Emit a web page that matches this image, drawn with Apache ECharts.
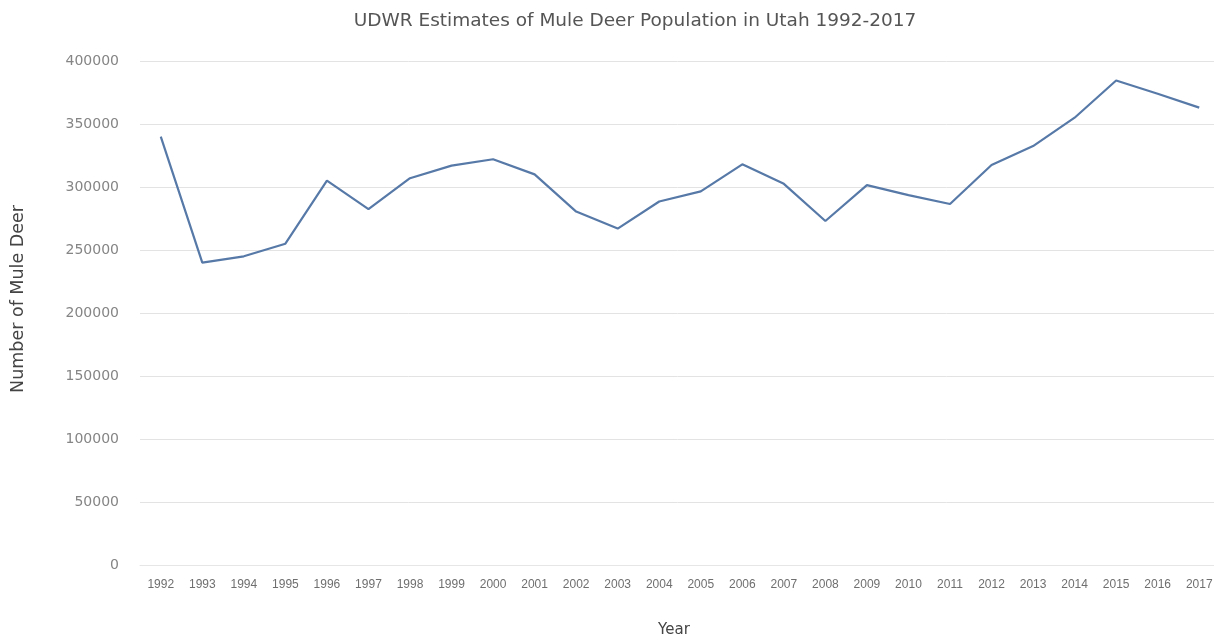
<!DOCTYPE html>
<html><head><meta charset="utf-8">
<script src="https://cdn.jsdelivr.net/npm/echarts@6/dist/echarts.min.js"></script>
<style>html,body{margin:0;padding:0;background:#fff}#c{width:1214px;height:641px}</style>
</head><body><div id="c"></div>
<script>
const years = ['1992','1993','1994','1995','1996','1997','1998','1999','2000','2001','2002','2003','2004','2005','2006','2007','2008','2009','2010','2011','2012','2013','2014','2015','2016','2017'];
const deer = [340000,240000,245000,255000,305000,282500,307000,317000,322000,310000,280500,267000,288500,296500,318000,302500,273000,301500,293500,286500,317500,332500,355000,384500,374000,363000];
const yTicks = {min:0, max:400000, interval:50000};

const chart = echarts.init(document.getElementById('c'));
chart.setOption({
  animation:false,
  textStyle:{fontFamily:'DejaVu Sans'},
  title:{text:'UDWR Estimates of Mule Deer Population in Utah 1992-2017',left:630,top:7,textAlign:'center',
    textStyle:{fontSize:18.5,fontWeight:'normal',color:'#555',fontFamily:'DejaVu Sans'}},
  grid:{left:140,width:1080,top:61,bottom:76,outerBoundsMode:'none',containLabel:false},
  xAxis:{type:'category',data:years,boundaryGap:true,
    name:'Year',nameLocation:'middle',nameGap:58,
    nameTextStyle:{fontSize:15,color:'#444',fontFamily:'DejaVu Sans',padding:[0,12,0,0]},
    axisLine:{lineStyle:{color:'#e6e6e6'}},axisTick:{show:false},
    axisLabel:{fontSize:12,color:'#6f6f6f',margin:14,interval:0,fontFamily:'Liberation Sans'}},
  yAxis:{type:'value',min:yTicks.min,max:yTicks.max,interval:yTicks.interval,
    name:'Number of Mule Deer',nameLocation:'middle',nameGap:113,nameRotate:90,
    nameTextStyle:{fontSize:17.5,color:'#444',fontFamily:'DejaVu Sans',padding:[0,0,0,28]},
    axisLine:{show:false},axisTick:{show:false},
    axisLabel:{fontSize:14,color:'#858585',margin:21,formatter:v=>String(v),fontFamily:'DejaVu Sans'},
    splitLine:{lineStyle:{color:'#e3e3e3'}}},
  series:[{type:'line',data:deer,symbol:'none',lineStyle:{color:'#5679a8',width:2.2}}]
});
</script></body></html>
